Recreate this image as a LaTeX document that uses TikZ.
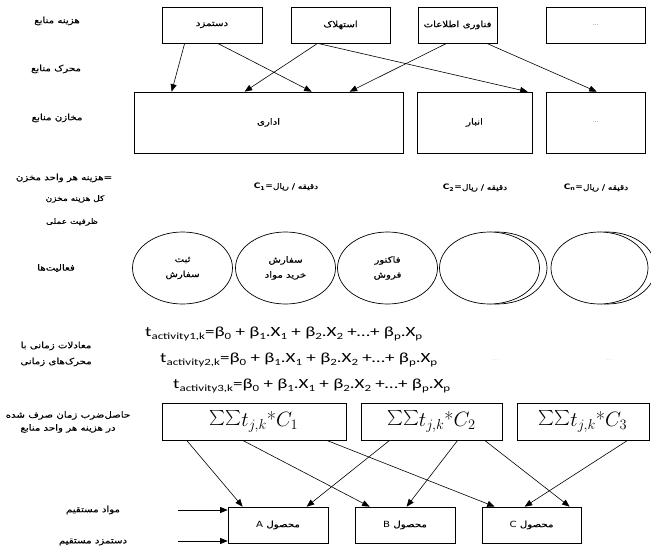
\documentclass[tikz,border=0pt]{standalone}
\usepackage{fontspec}
\usepackage{graphicx}
\usetikzlibrary{arrows.meta,shapes.geometric}
\TeXXeTstate=1
\newfontfamily\ar[Script=Arabic,FakeStretch=1.2,FakeBold=0.4]{DejaVu Sans}
\newfontfamily\lat[FakeStretch=1.2]{DejaVu Sans}
\newfontfamily\eqf[FakeStretch=1.36]{Carlito}
\newcommand\AR[1]{{\ar\beginR #1\endR}}
\newcommand\arsz{\ar\fontsize{8.5}{10}\selectfont}
\newcommand\arsm{\ar\fontsize{7.5}{9}\selectfont}
\newcommand\lo[1]{\raisebox{-0.35ex}{\fontsize{9.5}{10}\selectfont #1}}
\newcommand\sumf{\fontsize{20}{24}\selectfont}
\newcommand\bsum{\scalebox{1.5}{$\sum$}}
\newcommand\sumtxt[1]{\bsum\bsum$t_{j,k}$*$C_{#1}$}
\newcommand\dotsf{\fontsize{6}{7}\selectfont}
\begin{document}
\begin{tikzpicture}[x=1pt,y=-1pt,
  box/.style={draw, line width=0.7pt, inner sep=0pt, font=\arsz},
  lbl/.style={inner sep=0pt, font=\arsz},
  ell/.style={draw, ellipse, line width=0.7pt, inner sep=0pt, minimum width=100pt, minimum height=72pt, font=\ar\fontsize{8.5}{15}\selectfont, align=center},
  arr/.style={-{Triangle[length=7.5pt,width=6pt]}, line width=0.6pt},
  eq/.style={inner sep=0pt, anchor=west, font=\eqf\fontsize{14}{18}\selectfont}]
\fill[white] (0,0) rectangle (651,552);
\useasboundingbox (0,0) rectangle (651,552);

% top boxes
\node[box, minimum width=100pt, minimum height=36pt] (b1) at (212,25) {\AR{دستمزد}};
\node[box, minimum width=99pt, minimum height=36pt] (b2) at (340.5,25) {\AR{استهلاک}};
\node[box, minimum width=79pt, minimum height=36pt] (b3) at (457.5,25) {\AR{فناوری اطلاعات}};
\node[box, minimum width=99pt, minimum height=36pt, font=\dotsf] (b4) at (595.5,25) {...};

% storage boxes
\node[box, minimum width=269pt, minimum height=61pt] (s1) at (268.5,122.5) {\AR{اداری}};
\node[box, minimum width=115pt, minimum height=61pt] (s2) at (474.5,122.5) {\AR{انبار}};
\node[box, minimum width=99pt, minimum height=61pt, font=\dotsf] (s3) at (595.5,122.5) {...};

% top arrows
\draw[arr] ([xshift=23pt]b1.south west) -- ([xshift=38pt]s1.north west);
\draw[arr] ([xshift=56pt]b1.south west) -- ([xshift=178pt]s1.north west);
\draw[arr] ([xshift=27pt]b2.south west) -- ([xshift=111pt]s1.north west);
\draw[arr] ([xshift=27pt]b2.south west) -- ([xshift=111pt]s2.north west);
\draw[arr] ([xshift=29pt]b3.south west) -- ([xshift=216pt]s1.north west);
\draw[arr] ([xshift=69pt]b3.south west) -- ([xshift=51pt]s3.north west);

% left labels
\node[lbl] (l1) at (57,21) {\AR{هزینه منابع}};
\node[lbl] (l2) at (56,69) {\AR{محرک منابع}};
\node[lbl] (l3) at (57,118) {\AR{مخازن منابع}};
\node[lbl] (l4) at (64,178) {\AR{=هزینه هر واحد مخزن}};
\node[lbl, font=\arsm] (l5) at (75,199) {\AR{کل هزینه مخزن}};
\node[lbl, font=\arsm] (l6) at (72,222) {\AR{ظرفیت عملی}};
\node[lbl] (l7) at (56,268) {\AR{فعالیت‌ها}};
\node[lbl, align=center, font=\ar\fontsize{8.5}{16}\selectfont] (l8) at (56,354) {\AR{معادلات زمانی با}\\\AR{محرک‌های زمانی}};
\node[lbl, align=center, font=\ar\fontsize{8.5}{13}\selectfont] (l9) at (68,422) {\AR{حاصل‌ضرب زمان صرف شده}\\\AR{در هزینه هر واحد منابع}};
\node[lbl] (l10) at (93,510) {\AR{مواد مستقیم}};
\node[lbl] (l11) at (93,542) {\AR{دستمزد مستقیم}};

% unit cost labels
\node[lbl, font=\arsm] (c1) at (286,187) {{\lat\bfseries C\textsubscript{1}=}\AR{دقیقه / ریال}};
\node[lbl, font=\arsm] (c2) at (475,188) {{\lat\bfseries C\textsubscript{2}=}\AR{دقیقه / ریال}};
\node[lbl, font=\arsm] (c3) at (596,188) {{\lat\bfseries C\textsubscript{n}=}\AR{دقیقه / ریال}};

% activities
\node[ell] (e1) at (182.5,268) {\AR{ثبت}\\\AR{سفارش}};
\node[ell] (e2) at (285.5,268) {\AR{سفارش}\\\AR{خرید مواد}};
\node[ell] (e3) at (387.5,268) {\AR{فاکتور}\\\AR{فروش}};
\node[ell, fill=white] (e4b) at (497,268) {};
\node[ell, fill=white] (e4) at (489.5,268) {};
\node[ell, fill=white, minimum width=97pt] (e5b) at (607,268) {};
\node[ell, fill=white, minimum width=97pt] (e5) at (599.5,268) {};

% equations
\node[eq] (q1) at (145,334) {t\lo{activity1,k}=β\lo{0} + β\lo{1}.X\lo{1} + β\lo{2}.X\lo{2} +…+ β\lo{p}.X\lo{p}};
\node[eq] (q2) at (160,360) {t\lo{activity2,k}=β\lo{0} + β\lo{1}.X\lo{1} + β\lo{2}.X\lo{2} +…+ β\lo{p}.X\lo{p}};
\node[eq] (q3) at (173,386) {t\lo{activity3,k}=β\lo{0} + β\lo{1}.X\lo{1} + β\lo{2}.X\lo{2} +…+ β\lo{p}.X\lo{p}};
\node[lbl, font=\tiny, text=gray] (d1) at (496,360) {...};
\node[lbl, font=\tiny, text=gray] (d2) at (610,360) {...};

% sum boxes
\node[box, minimum width=184pt, minimum height=37pt, font=\sumf] (m1) at (254,421.5) {\sumtxt{1}};
\node[box, minimum width=141pt, minimum height=37pt, font=\sumf] (m2) at (431.5,421.5) {\sumtxt{2}};
\node[box, minimum width=132pt, minimum height=37pt, font=\sumf] (m3) at (583,421.5) {\sumtxt{3}};

% products
\node[box, minimum width=100pt, minimum height=36pt] (pA) at (278,525) {{\lat A} \AR{محصول}};
\node[box, minimum width=100pt, minimum height=36pt] (pB) at (405,525) {{\lat B} \AR{محصول}};
\node[box, minimum width=99pt, minimum height=36pt] (pC) at (531.5,525) {{\lat C} \AR{محصول}};

% bottom arrows
\draw[arr] ([xshift=25pt]m1.south west) -- ([xshift=15pt]pA.north west);
\draw[arr] ([xshift=81pt]m1.south west) -- ([xshift=15pt]pB.north west);
\draw[arr] ([xshift=165pt]m1.south west) -- ([xshift=13pt]pC.north west);
\draw[arr] ([xshift=29pt]m2.south west) -- ([xshift=79pt]pA.north west);
\draw[arr] ([xshift=97pt]m2.south west) -- ([xshift=52pt]pB.north west);
\draw[arr] ([xshift=124pt]m2.south west) -- ([xshift=88pt]pC.north west);
\draw[arr] ([xshift=111pt]m3.south west) -- ([xshift=43pt]pC.north west);

% direct inputs
\coordinate (i1) at (178,510);
\coordinate (i2) at (178,541);
\draw[arr] (i1) -- (i1 -| pA.west);
\draw[arr] (i2) -- (i2 -| pA.west);
\end{tikzpicture}
\end{document}
